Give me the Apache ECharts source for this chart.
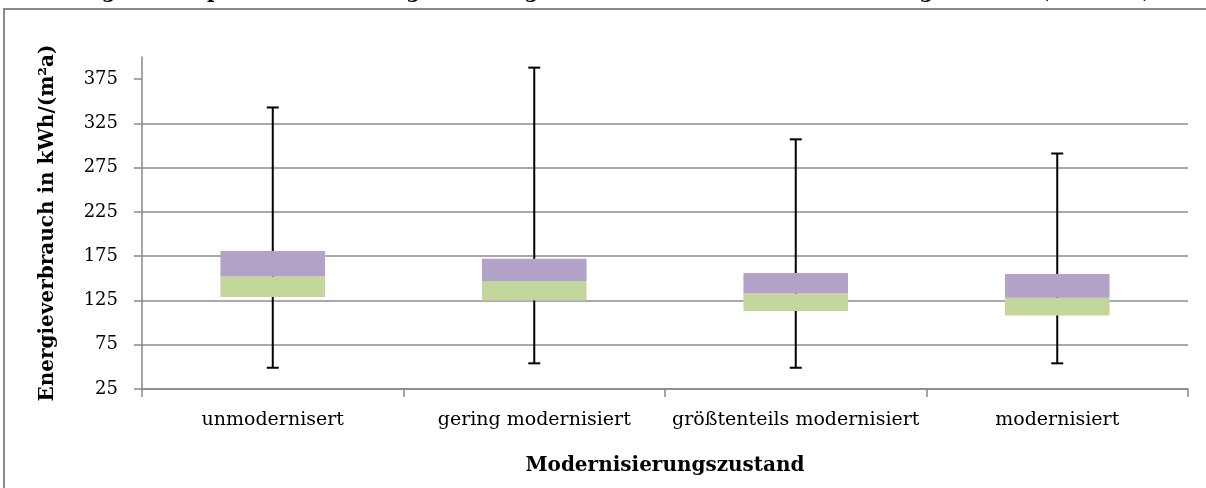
<!DOCTYPE html>
<html>
<head>
<meta charset="utf-8">
<script src="https://cdn.jsdelivr.net/npm/echarts@6/dist/echarts.min.js"></script>
<style>
  html, body { margin: 0; padding: 0; background: #fff; }
  #main { width: 1206px; height: 488px; }
</style>
</head>
<body>
<div id="main"></div>
<script>
// Boxplot: Energieverbrauch nach Modernisierungszustand
const categories = ['unmodernisert', 'gering modernisiert', 'größtenteils modernisiert', 'modernisiert']
const whiskerMin = [49, 54, 49, 54]
const q1 = [129, 125, 113, 108]
const median = [152, 147, 133, 128]
const q3 = [181, 172, 156, 155]
const whiskerMax = [343, 388, 307, 291]
const yTicks = [25, 75, 125, 175, 225, 275, 325, 375]

const serif = '"DejaVu Serif", "Liberation Serif", serif'

const chartDom = document.getElementById('main')
const myChart = echarts.init(chartDom)

const option = {
  animation: false,
  backgroundColor: '#fff',
  grid: { left: 142, right: 18, top: 57, bottom: 99 },
  graphic: [
    {
      type: 'text',
      left: 0,
      top: -17,
      style: {
        text: 'Abbildung 15: Boxplot mit Verteilung der Energieverbräuche nach Modernisierungszustand (n=9.104)',
        font: 'bold 20px ' + serif,
        fill: '#000'
      }
    },
    {
      type: 'rect',
      shape: { x: 4, y: 9, width: 1230, height: 500 },
      style: { fill: 'none', stroke: '#888', lineWidth: 2 },
      silent: true
    }
  ],
  xAxis: {
    type: 'category',
    data: categories,
    boundaryGap: true,
    name: 'Modernisierungszustand',
    nameLocation: 'middle',
    nameGap: 67,
    nameTextStyle: { fontFamily: serif, fontWeight: 'bold', fontSize: 20, color: '#000' },
    axisLine: { lineStyle: { color: '#888', width: 1.5 } },
    axisTick: { show: true, interval: 0, alignWithLabel: false, length: 8, lineStyle: { color: '#888', width: 1.5 } },
    axisLabel: { interval: 0, fontFamily: serif, fontSize: 19, color: '#000', margin: 22 }
  },
  yAxis: {
    type: 'value',
    min: 25,
    max: 400,
    interval: 50,
    name: 'Energieverbrauch in kWh/(m²a)',
    nameLocation: 'middle',
    nameGap: 84,
    nameTextStyle: { fontFamily: serif, fontWeight: 'bold', fontSize: 20, color: '#000' },
    axisLine: { show: true, lineStyle: { color: '#888', width: 1.5 } },
    axisTick: { show: true, length: 8, customValues: yTicks, lineStyle: { color: '#888', width: 1.5 } },
    axisLabel: { fontFamily: serif, fontSize: 18, color: '#000', margin: 24, customValues: yTicks },
    splitLine: { show: true, showMaxLine: false, lineStyle: { color: '#8c8c8c', width: 1.5 } }
  },
  series: [
    {
      type: 'custom',
      z: 1,
      data: categories.map((c, i) => [i, whiskerMin[i], whiskerMax[i]]),
      renderItem: function (params, api) {
        const lo = api.coord([api.value(0), api.value(1)])
        const hi = api.coord([api.value(0), api.value(2)])
        const cap = 6
        const style = { stroke: '#000', lineWidth: 2 }
        return {
          type: 'group',
          children: [
            { type: 'line', shape: { x1: lo[0], y1: lo[1], x2: hi[0], y2: hi[1] }, style: style },
            { type: 'line', shape: { x1: lo[0] - cap, y1: lo[1], x2: lo[0] + cap, y2: lo[1] }, style: style },
            { type: 'line', shape: { x1: hi[0] - cap, y1: hi[1], x2: hi[0] + cap, y2: hi[1] }, style: style }
          ]
        }
      }
    },
    {
      name: 'base',
      type: 'bar',
      stack: 'box',
      z: 2,
      barWidth: '40%',
      itemStyle: { color: 'transparent' },
      data: q1
    },
    {
      name: 'Q1-Median',
      type: 'bar',
      stack: 'box',
      z: 2,
      itemStyle: { color: '#C3D69B' },
      data: median.map((m, i) => m - q1[i])
    },
    {
      name: 'Median-Q3',
      type: 'bar',
      stack: 'box',
      z: 2,
      itemStyle: { color: '#B3A2C7' },
      data: q3.map((v, i) => v - median[i])
    }
  ]
}

option && myChart.setOption(option)
</script>
</body>
</html>
